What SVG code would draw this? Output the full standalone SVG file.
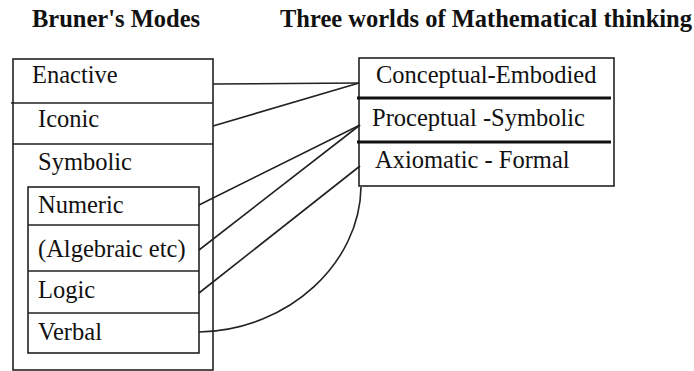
<svg xmlns="http://www.w3.org/2000/svg" width="694" height="371" viewBox="0 0 694 371">
<style>
text{font-family:'Liberation Serif','DejaVu Serif',Tinos,serif;font-size:24.5px;fill:#111}
.t{font-weight:bold}
.box{fill:none;stroke:#222;stroke-width:1.6}
.div{stroke:#222;stroke-width:1.6}
.thick{stroke:#111;stroke-width:2.8}
.con path{fill:none;stroke:#222;stroke-width:1.6}
</style>
<rect width="694" height="371" fill="#fff"/>
<text class="t" x="32" y="27">Bruner's Modes</text>
<text class="t" x="280" y="27">Three worlds of Mathematical thinking</text>
<g id="bruner">
<rect class="box" x="13" y="59" width="200" height="311"/>
<line class="div" x1="11" y1="103" x2="213" y2="103"/>
<line class="div" x1="13" y1="144" x2="213" y2="144"/>
<g id="enactive"><text x="32" y="83">Enactive</text></g>
<g id="iconic"><text x="38" y="127">Iconic</text></g>
<g id="symbolic"><text x="38" y="170">Symbolic</text>
<rect class="box" x="28" y="187" width="171" height="166"/>
<line class="div" x1="28" y1="225" x2="199" y2="225"/>
<line class="div" x1="28" y1="271" x2="199" y2="271"/>
<line class="div" x1="28" y1="313" x2="199" y2="313"/>
</g>
<g id="numeric"><text x="38" y="213">Numeric</text></g>
<g id="algebraic"><text x="38" y="257">(Algebraic etc)</text></g>
<g id="logic"><text x="38" y="298">Logic</text></g>
<g id="verbal"><text x="38" y="340">Verbal</text></g>
</g>
<g id="worlds">
<rect class="box" x="359" y="58" width="255" height="128"/>
<line class="thick" x1="357" y1="98" x2="611" y2="98"/>
<line class="thick" x1="357" y1="142" x2="611" y2="142"/>
<g id="embodied"><text x="376" y="83">Conceptual-Embodied</text></g>
<g id="symbolic-world"><text x="372" y="126">Proceptual -Symbolic</text></g>
<g id="formal"><text x="375" y="168">Axiomatic - Formal</text></g>
</g>
<g class="con" id="connectors">
<path d="M213,84 L359,83"/>
<path d="M213,126 L359,83"/>
<path d="M199,205 L360,125"/>
<path d="M199,250 L360,125"/>
<path d="M199,293 L360,166"/>
<path d="M199,332 C290,330 360,262 361,187"/>
</g>
</svg>
